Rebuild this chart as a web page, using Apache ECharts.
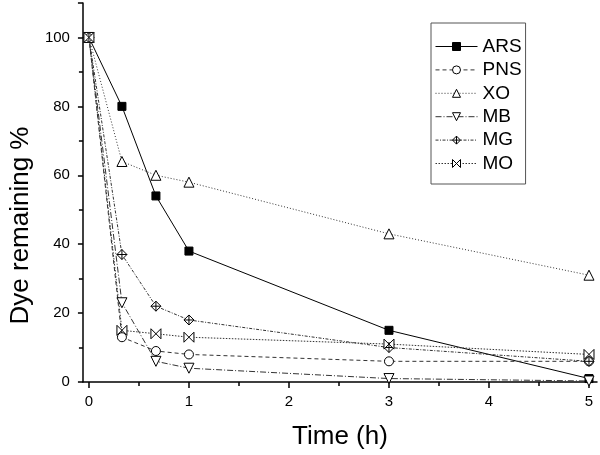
<!DOCTYPE html>
<html><head><meta charset="utf-8">
<script src="https://cdn.jsdelivr.net/npm/echarts@6/dist/echarts.min.js"></script>
<style>html,body{margin:0;padding:0;background:#fff}#c{width:600px;height:455px}</style>
</head><body><div id="c"></div>
<script>
const times = [0, 0.33, 0.67, 1, 3, 5];
const ARS = [100, 80, 54, 38, 15, 1];
const PNS = [100, 13, 9, 8, 6, 6];
const XO  = [100, 64, 60, 58, 43, 31];
const MB  = [100, 23, 6, 4, 1, 0.3];
const MG  = [100, 37, 22, 18, 10, 6];
const MO  = [100, 15, 14, 13, 11, 8];
const seriesNames = ['ARS', 'PNS', 'XO', 'MB', 'MG', 'MO'];
const xMajor = [0, 1, 2, 3, 4, 5];
const xMinor = [0.5, 1.5, 2.5, 3.5, 4.5];

const FONT = '"Liberation Sans", Arial, sans-serif';
const pair = arr => times.map((t, i) => [t, arr[i]]);

const diamondCross = 'path://M0,-10 L10,0 L0,10 L-10,0 Z M0,-10 L0,10 M-10,0 L10,0';
const bowX = 'path://M-8,-10 L8,10 L8,-10 L-8,10 Z';

function mk(name, data, sym, size, fill, dash, color, rot) {
  return {
    name, type: 'line', data: pair(data), symbol: sym, symbolSize: size,
    symbolRotate: rot || 0,
    lineStyle: { color: color, width: 1, type: dash },
    itemStyle: { color: fill, borderColor: '#000', borderWidth: 1 },
    showAllSymbol: true, animation: false, z: 2
  };
}

const fills = { ARS: '#000', PNS: '#fff', XO: '#fff', MB: '#fff', MG: '#fff', MO: '#fff' };

const chart = echarts.init(document.getElementById('c'), null, { renderer: 'canvas' });
chart.setOption({
  animation: false,
  backgroundColor: '#fff',
  textStyle: { fontFamily: FONT },
  grid: { left: 77, right: 3, top: 3, bottom: 72, containLabel: false },
  legend: {
    left: 431, top: 23, orient: 'vertical',
    padding: [14, 4, 11, 4], itemGap: 4.4,
    itemWidth: 42, itemHeight: 10,
    borderColor: '#555', borderWidth: 1,
    lineStyle: { width: 1 },
    textStyle: { fontFamily: FONT, fontSize: 19, color: '#000', lineHeight: 19 },
    data: seriesNames.map(n => ({
      name: n,
      itemStyle: { color: fills[n], borderColor: '#000', borderWidth: 1 }
    }))
  },
  xAxis: [{
    type: 'value', min: -0.06, max: 5.08,
    name: 'Time (h)', nameLocation: 'middle', nameGap: 42,
    nameTextStyle: { fontFamily: FONT, fontSize: 26, color: '#000' },
    axisLine: { show: true, onZero: false, lineStyle: { color: '#000', width: 1.5 } },
    axisTick: { show: true, inside: false, length: 6, customValues: xMajor, lineStyle: { color: '#000', width: 1.5 } },
    axisLabel: { customValues: xMajor, fontFamily: FONT, fontSize: 15, color: '#000', margin: 12 },
    splitLine: { show: false }
  }, {
    type: 'value', min: -0.06, max: 5.08, position: 'bottom',
    axisLine: { show: false },
    axisTick: { show: true, length: 4, customValues: xMinor, lineStyle: { color: '#000', width: 1.5 } },
    axisLabel: { show: false },
    splitLine: { show: false }
  }],
  yAxis: {
    type: 'value', min: 0, max: 110, interval: 20,
    name: 'Dye remaining %', nameLocation: 'middle', nameGap: 48,
    nameTextStyle: { fontFamily: FONT, fontSize: 26, color: '#000', padding: [0, 66, 0, 0] },
    axisLine: { show: true, onZero: false, lineStyle: { color: '#000', width: 1.5 } },
    axisTick: { show: true, length: 5, lineStyle: { color: '#000', width: 1.5 } },
    minorTick: { show: true, splitNumber: 2, length: 4, lineStyle: { color: '#000', width: 1.5 } },
    axisLabel: { fontFamily: FONT, fontSize: 15, color: '#000', margin: 13, showMaxLabel: false },
    splitLine: { show: false }
  },
  series: [
    mk('ARS', ARS, 'rect', 8, '#000', 'solid', '#000'),
    mk('PNS', PNS, 'circle', 9, '#fff', [4, 3], '#333'),
    mk('XO', XO, 'triangle', 10, '#fff', [1, 2], '#333'),
    mk('MB', MB, 'triangle', 10, '#fff', [6, 2, 1, 2], '#333', 180),
    mk('MG', MG, diamondCross, 10, '#fff', [3, 1.5, 1, 1.5], '#333'),
    mk('MO', MO, bowX, 10, '#fff', [1.5, 1.5], '#333')
  ]
});
</script></body></html>
